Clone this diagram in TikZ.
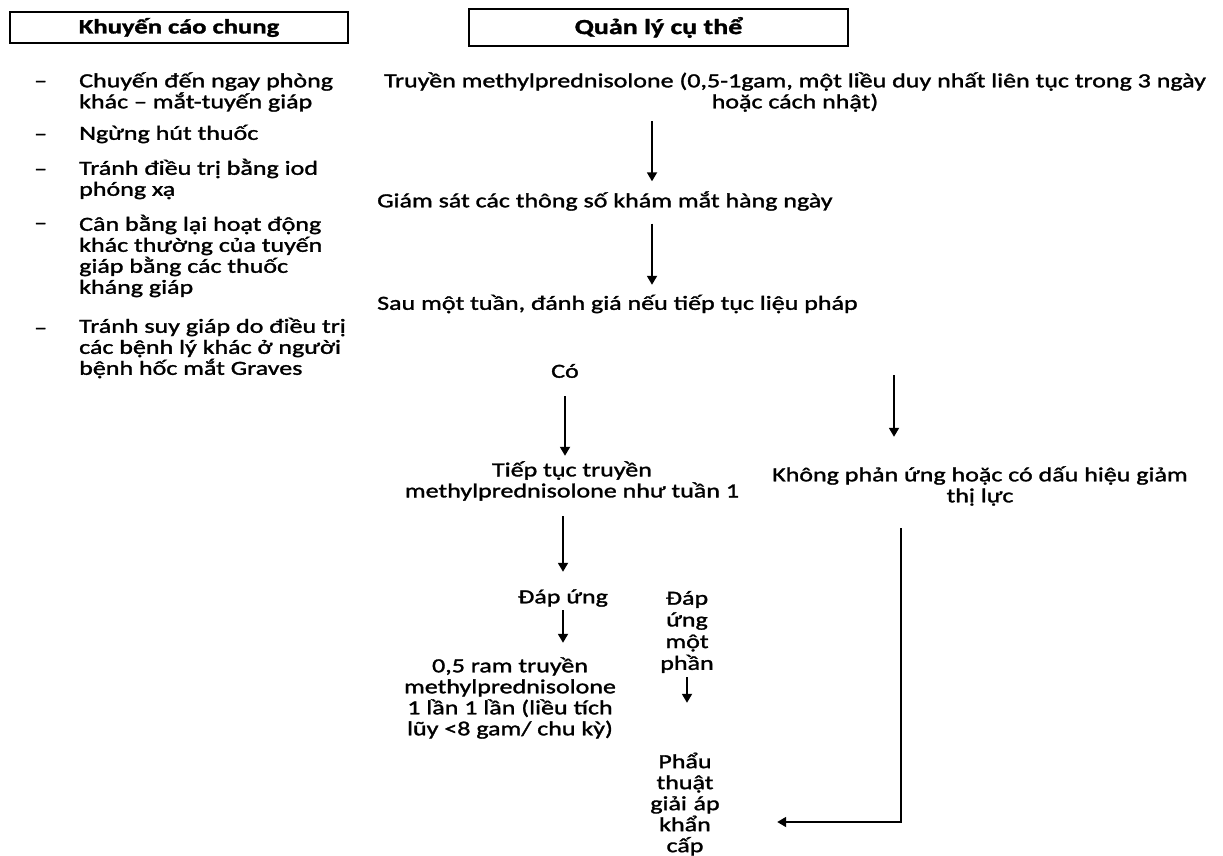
\documentclass[tikz,border=0pt]{standalone}
\usepackage{fontspec}
\setmainfont[FakeStretch=1.3, RawFeature={embolden=1.5}]{Carlito}
\usetikzlibrary{arrows.meta}
\begin{document}
\begin{tikzpicture}[x=1pt,y=-1pt,
  txt/.style={inner sep=0pt, font=\fontsize{20}{21}\selectfont, align=center},
  ltxt/.style={inner sep=0pt, font=\fontsize{20}{21}\selectfont, align=left, anchor=west},
  hdr/.style={draw, line width=1.3pt, inner sep=0pt, font=\bfseries\fontsize{20.5}{21}\selectfont},
  arr/.style={line width=1.8pt, -{Triangle[length=9pt,width=10pt]}}
]
\useasboundingbox (0,0) rectangle (1223,856);

% headers
\node[hdr, minimum width=338pt, minimum height=31pt] (h1) at (179,27.5) {Khuyến cáo chung};
\node[hdr, minimum width=379pt, minimum height=37pt, font=\bfseries\fontsize{21.5}{21}\selectfont] (h2) at (658.5,27.5) {Quản lý cụ thể};

% left list
\node[ltxt] (d1) at (34,84) {–};
\node[ltxt] (d2) at (34,137) {–};
\node[ltxt] (d3) at (34,172) {–};
\node[ltxt] (d4) at (34,226) {–};
\node[ltxt] (d5) at (34,331) {–};
\node[ltxt, minimum height=42pt] (l1) at (79,92) {Chuyến đến ngay phòng\\khác – mắt-tuyến giáp};
\node[ltxt, minimum height=21pt] (l2) at (79,134) {Ngừng hút thuốc};
\node[ltxt, minimum height=42pt] (l3) at (79,179) {Tránh điều trị bằng iod\\phóng xạ};
\node[ltxt, minimum height=84pt] (l4) at (79,256) {Cân bằng lại hoạt động\\khác thường của tuyến\\giáp bằng các thuốc\\kháng giáp};
\node[ltxt, minimum height=63pt] (l5) at (79,348) {Tránh suy giáp do điều trị\\các bệnh lý khác ở người\\bệnh hốc mắt Graves};

% right column
\node[txt, minimum height=42pt] (t1) at (795,92) {Truyền methylprednisolone (0,5-1gam, một liều duy nhất liên tục trong 3 ngày\\hoặc cách nhật)};
\node[ltxt, minimum height=21pt] (t2) at (377,201) {Giám sát các thông số khám mắt hàng ngày};
\node[ltxt, minimum height=21pt] (t3) at (377,304) {Sau một tuần, đánh giá nếu tiếp tục liệu pháp};
\node[txt, minimum height=21pt] (co) at (565,371) {Có};
\node[txt, minimum height=42pt] (t4) at (572,481) {Tiếp tục truyền\\methylprednisolone như tuần 1};
\node[txt, minimum height=42pt] (t5) at (980,486) {Không phản ứng hoặc có dấu hiệu giảm\\thị lực};
\node[txt, minimum height=21pt] (t6) at (563,598) {Đáp ứng};
\node[txt, minimum height=84pt] (t7) at (510,698) {0,5 ram truyền\\methylprednisolone\\1 lần 1 lần (liều tích\\lũy <8 gam/ chu kỳ)};
\node[txt, minimum height=84pt, font=\fontsize{20}{21.7}\selectfont] (t8) at (687,632) {Đáp\\ứng\\một\\phần};
\node[txt, minimum height=105pt, text width=80pt] (t9) at (685,804) {Phẩu\\thuật\\giải áp\\khẩn\\cấp};

\coordinate (ax) at (652,0);
\coordinate (rs) at (894,375);
\coordinate (el) at (901,822);

% connectors
\draw[arr, shorten <=8pt, shorten >=9pt] (t1.south -| ax) -- (t2.north -| ax);
\draw[arr, shorten <=12pt, shorten >=8.5pt] (t2.south -| ax) -- (t3.north -| ax);
\draw[arr, shorten <=14.5pt, shorten >=4pt] (co.south) -- (co.south |- t4.north);
\draw[arr, shorten >=28pt] (rs) -- (rs |- t5.north);
\draw[arr, shorten <=14pt, shorten >=15.5pt] (t6.north |- t4.south) -- (t6.north);
\draw[arr, shorten <=1.5pt, shorten >=13pt] (t6.south) -- (t6.south |- t7.north);
\draw[arr, shorten <=3pt, shorten >=48.5pt] (t8.south) -- (t8.south |- t9.north);
\draw[arr, shorten <=21pt, shorten >=52pt] (t5.south -| el) -- (el) -- (t9.east |- el);
\end{tikzpicture}
\end{document}
